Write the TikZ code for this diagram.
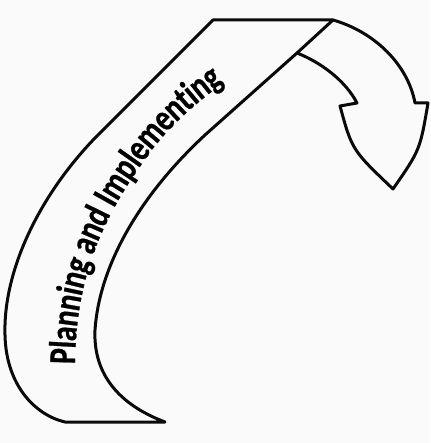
\documentclass[tikz,border=0pt]{standalone}
\usepackage{xcolor}
\usepackage{tikz}
\usepackage{fontspec}
\usetikzlibrary{decorations.text}
\newfontfamily\ribbonfont{Carlito}[FakeStretch=0.78, BoldFeatures={FakeBold=0.6}]
\definecolor{paper}{RGB}{250, 250, 250}
\definecolor{inkblack}{RGB}{10, 10, 10}
\tikzset{
    ribbonline/.style={draw=inkblack, line width=3pt, line join=round, fill=paper},
    creaseline/.style={draw=inkblack, line width=3pt, line cap=round}
}

\begin{document}
\begin{tikzpicture}[x=1pt, y=-1pt]
    \fill[paper] (0,0) rectangle (430,443);
    \useasboundingbox (0,0) rectangle (430,443);
    \path[ribbonline] (65,422) -- (165,422)
        .. controls (120,405) and (93,375) .. (95,330)
        .. controls (99,270) and (135,200) .. (205,135)
        -- (297,53)
        .. controls (320,62) and (345,80) .. (357,103)
        -- (340,106)
        .. controls (352,150) .. (393,189)
        .. controls (420,150) .. (428,103)
        -- (415,103)
        .. controls (408,65) and (375,32) .. (333,20)
        -- (213,20) -- (95,138)
        .. controls (40,195) and (3,270) .. (5,335)
        .. controls (6,385) and (35,415) .. (65,422) -- cycle;
    \coordinate (foldtop) at (333,20);
    \coordinate (foldbottom) at (297,53);
    \draw[creaseline] (foldtop) -- (foldbottom);
    \path[decorate, decoration={text along path, raise=-9pt,
          text={|\ribbonfont\bfseries\fontsize{38}{38}\selectfont|Planning and Implementing}}]
        (66,364) .. controls (67,280) and (90,215) .. (150,138)
        .. controls (175,108) and (200,88) .. (240,60);
\end{tikzpicture}
\end{document}
